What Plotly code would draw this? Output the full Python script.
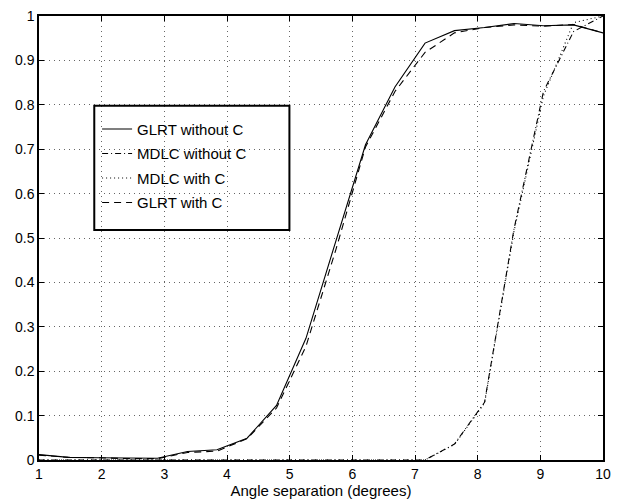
import plotly.graph_objects as go

angle = [1.0, 1.47, 1.95, 2.42, 2.89, 3.37, 3.84, 4.32, 4.79, 5.26,
         5.74, 6.21, 6.68, 7.16, 7.63, 8.11, 8.58, 9.05, 9.53, 10.0]

glrt_without_c = [0.012, 0.006, 0.005, 0.004, 0.004, 0.019, 0.023, 0.049, 0.123, 0.274,
                  0.497, 0.71, 0.84, 0.939, 0.967, 0.974, 0.983, 0.978, 0.98, 0.962]
mdlc_without_c = [0, 0, 0, 0, 0, 0, 0, 0, 0, 0,
                  0, 0, 0, 0.0, 0.036, 0.13, 0.52, 0.83, 0.965, 1.0]
mdlc_with_c = [0, 0, 0, 0, 0, 0, 0, 0, 0, 0,
               0, 0, 0, 0.0, 0.035, 0.128, 0.515, 0.82, 0.985, 1.0]
glrt_with_c = [0.011, 0.006, 0.005, 0.003, 0.003, 0.017, 0.02, 0.048, 0.117, 0.256,
               0.475, 0.705, 0.83, 0.918, 0.962, 0.974, 0.98, 0.977, 0.981, 0.962]

series = [
    ("GLRT without C", glrt_without_c, "solid"),
    ("MDLC without C", mdlc_without_c, "6px,3px,1px,3px"),
    ("MDLC with C", mdlc_with_c, "1px,3px"),
    ("GLRT with C", glrt_with_c, "7px,5px"),
]

x_ticks = [1, 2, 3, 4, 5, 6, 7, 8, 9, 10]
y_ticks = [0, 0.1, 0.2, 0.3, 0.4, 0.5, 0.6, 0.7, 0.8, 0.9, 1]
y_tick_labels = ["0", "0.1", "0.2", "0.3", "0.4", "0.5", "0.6", "0.7", "0.8", "0.9", "1"]

FONT = "Liberation Sans, Arial, Helvetica, sans-serif"

fig = go.Figure()
for i, (name, ys, dash) in enumerate(series):
    fig.add_trace(go.Scatter(
        x=angle, y=ys, mode="lines", name=name, legendgroup=f"g{i}",
        line=dict(color="black", width=1.1, dash=dash),
    ))

axis_common = dict(
    showline=True, linecolor="black", linewidth=1.5, mirror="allticks",
    ticks="inside", ticklen=5, tickcolor="black", tickwidth=1,
    showgrid=True, gridcolor="#666666", griddash="1px,4px", gridwidth=1,
    zeroline=False, tickfont=dict(family=FONT, size=14, color="black"),
)

fig.update_xaxes(range=[1, 10], tickvals=x_ticks, ticktext=[str(v) for v in x_ticks],
                 title=dict(text="Angle separation (degrees)", font=dict(family=FONT, size=15, color="black"), standoff=3),
                 **axis_common)
fig.update_yaxes(range=[0, 1], tickvals=y_ticks, ticktext=y_tick_labels, **axis_common)

# legend frame
fig.add_shape(type="rect", xref="paper", yref="paper",
              x0=0.098, x1=0.444, y0=0.518, y1=0.7976,
              line=dict(color="black", width=2), fillcolor="rgba(0,0,0,0)", layer="above")

fig.update_layout(
    width=619, height=503,
    margin=dict(l=39, r=8, t=11, b=41),
    paper_bgcolor="white", plot_bgcolor="white",
    font=dict(family=FONT, color="black"),
    showlegend=True,
    legend=dict(x=0.103, y=0.782, xanchor="left", yanchor="top",
                bgcolor="rgba(0,0,0,0)", borderwidth=0,
                font=dict(family=FONT, size=15, color="black"),
                tracegroupgap=2, itemwidth=30),
)

fig.write_html("out.html")
